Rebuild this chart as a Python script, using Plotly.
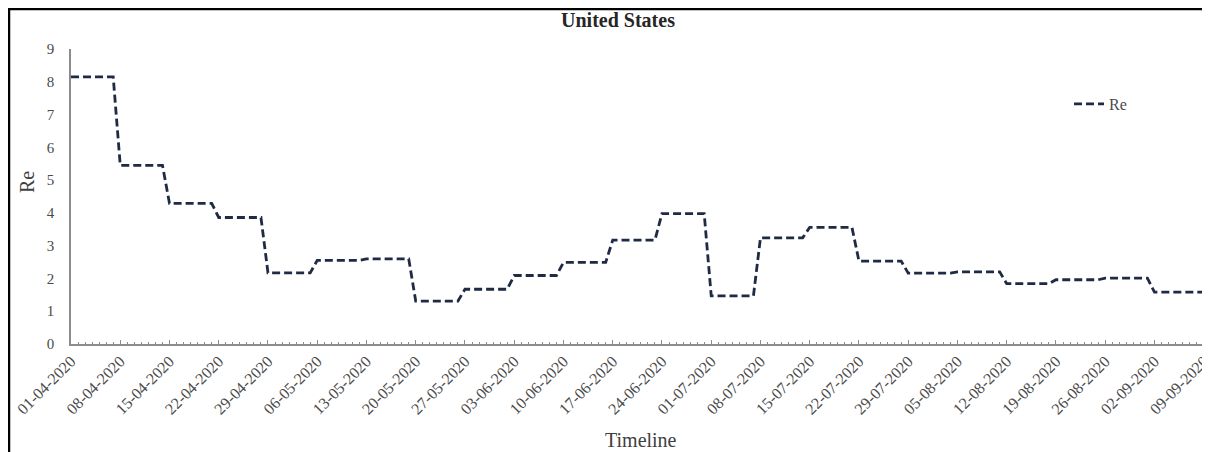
import numpy as np
import pandas as pd
import plotly.graph_objects as go

# Weekly effective reproduction number (Re) for the United States
week_starts = ["2020-04-01", "2020-04-08", "2020-04-15", "2020-04-22", "2020-04-29",
               "2020-05-06", "2020-05-13", "2020-05-20", "2020-05-27", "2020-06-03",
               "2020-06-10", "2020-06-17", "2020-06-24", "2020-07-01", "2020-07-08",
               "2020-07-15", "2020-07-22", "2020-07-29", "2020-08-05", "2020-08-12",
               "2020-08-19", "2020-08-26", "2020-09-02"]
re_values = [8.15, 5.45, 4.29, 3.86, 2.17,
             2.55, 2.6, 1.31, 1.67, 2.09,
             2.49, 3.17, 3.98, 1.47, 3.24,
             3.56, 2.53, 2.16, 2.2, 1.84,
             1.96, 2.01, 1.58]
end_date = "2020-09-09"

# daily series: each week's value holds for every day of that week
days = pd.date_range(week_starts[0], end_date, freq="D")
starts = pd.to_datetime(week_starts)
idx = np.searchsorted(starts.values, days.values, side="right") - 1
daily_re = np.array(re_values)[idx]

serif = "Liberation Serif, Times New Roman, serif"
grey = "#4a4a4a"

# the page body has an 8px margin, so the figure sits at (8, 8) in the window
OFF = 8
W, H = 1210 - OFF, 452 - OFF
L, T = 71 - OFF, 49 - OFF
R = W - (1204 - OFF)
B = H - (344 - OFF)
PW, PH = W - L - R, H - T - B


def px(xp):
    return (xp - OFF - L) / PW


def py(yp):
    return (H - B - (yp - OFF)) / PH


fig = go.Figure()
fig.add_trace(go.Scatter(
    x=days, y=daily_re, mode="lines", name="Re",
    line=dict(color="#1f2a44", width=2.8, dash="8px,4px"),
))

fig.update_layout(
    width=W, height=H,
    margin=dict(l=L, r=R, t=T, b=B, autoexpand=False),
    paper_bgcolor="white", plot_bgcolor="white",
    font=dict(family=serif, color=grey, size=14),
    title=dict(text="<b>United States</b>", x=(618 - OFF) / W, xanchor="center",
               y=1 - (20 - OFF) / H, yanchor="middle",
               font=dict(family=serif, size=20, color="#262626")),
    showlegend=True,
    legend=dict(x=px(1069), y=py(104), xanchor="left", yanchor="middle",
                bgcolor="rgba(0,0,0,0)", itemwidth=30,
                font=dict(family=serif, size=16, color=grey)),
)

fig.update_xaxes(
    type="date", automargin=False, ticklabeloverflow="allow",
    range=["2020-04-01", "2020-09-09 01:00"],
    tick0=week_starts[0], dtick=7 * 86400000,
    tickformat="%d-%m-%Y", tickangle=-45,
    tickfont=dict(family=serif, size=16, color=grey),
    showline=True, linecolor="#8c8c8c", linewidth=1.5,
    ticks="inside", ticklen=4, tickcolor="#8c8c8c", tickwidth=1,
    minor=dict(dtick=86400000, ticks="inside", ticklen=2, tickcolor="#8c8c8c", showgrid=False),
    showgrid=False, zeroline=False,
)
fig.update_yaxes(
    range=[0, 9], dtick=1, automargin=False,
    tickfont=dict(family=serif, size=15, color=grey),
    showline=True, linecolor="#8c8c8c", linewidth=1.5,
    ticks="", showgrid=False, zeroline=False, ticklabelstandoff=12,
)

# axis titles
fig.add_annotation(text="Re", xref="paper", yref="paper",
                   x=px(27), y=py(182), xanchor="center", yanchor="middle",
                   showarrow=False, textangle=-90,
                   font=dict(family=serif, size=20, color="#404040"))
fig.add_annotation(text="Timeline", xref="paper", yref="paper",
                   x=px(641), y=py(440), xanchor="center", yanchor="middle",
                   showarrow=False,
                   font=dict(family=serif, size=20, color="#404040"))

# frame (top and left edges as in the reference image)
fig.add_shape(type="line", xref="paper", yref="paper",
              x0=px(8), x1=px(1212), y0=py(9), y1=py(9),
              line=dict(color="black", width=2.5))
fig.add_shape(type="line", xref="paper", yref="paper",
              x0=px(9), x1=px(9), y0=py(8), y1=py(454),
              line=dict(color="black", width=2.5))

fig.write_html("out.html")
